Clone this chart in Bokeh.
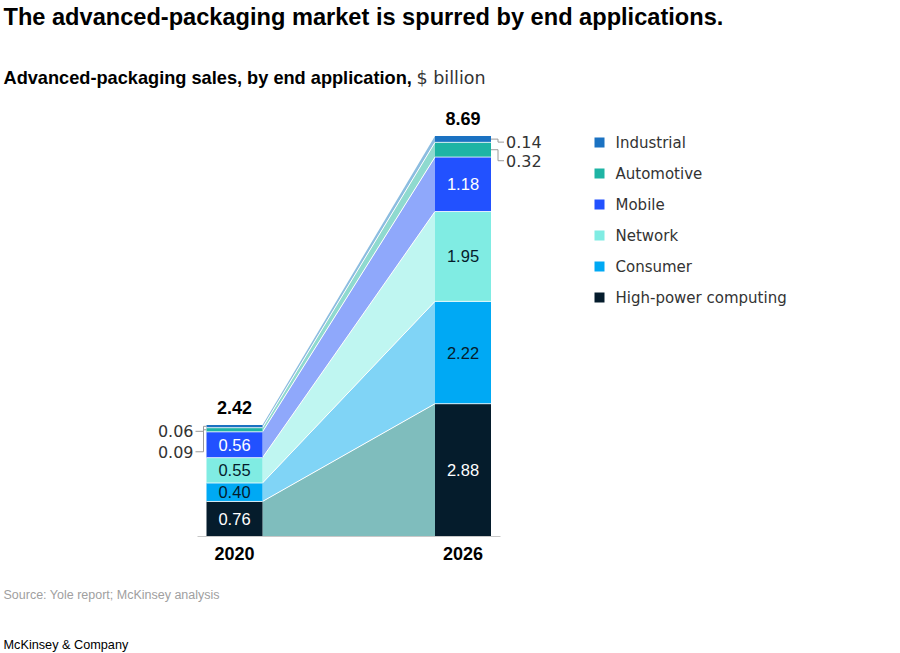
from bokeh.plotting import figure
from bokeh.models import Range1d, Label
from bokeh.embed import file_html
from bokeh.resources import INLINE
from bokeh.core.properties import value

# ---------------- data ----------------
years = ["2020", "2026"]
segments = ["High-power computing", "Consumer", "Network", "Mobile", "Automotive", "Industrial"]
v2020 = [0.76, 0.40, 0.55, 0.56, 0.09, 0.06]
v2026 = [2.88, 2.22, 1.95, 1.18, 0.32, 0.14]
totals = [2.42, 8.69]
legend_order = ["Industrial", "Automotive", "Mobile", "Network", "Consumer", "High-power computing"]

# ---------------- styles ----------------
bar_colors = {"High-power computing": "#051c2c", "Consumer": "#00a9f4", "Network": "#80ece3",
              "Mobile": "#2251ff", "Automotive": "#1eb4a4", "Industrial": "#1b72c2"}
area_colors = {"High-power computing": "#7fbdbd", "Consumer": "#80d4f6", "Network": "#bff6f1",
               "Mobile": "#8fa8fb", "Automotive": "#8fdacf", "Industrial": "#8cbde0"}
DARK = "#051c2c"
GREY = "#333333"
inside_color = {"High-power computing": "white", "Consumer": DARK, "Network": DARK, "Mobile": "white"}
REG = value("DejaVu Sans")
BOLD = value("Liberation Sans")

W, H = 900, 653
K = 46.1          # px per $ billion
BASE = 117        # px from bottom of canvas to baseline
xc = [234, 462.5]  # bar centres (px)
bw = 56

p = figure(width=W, height=H, x_range=Range1d(0, W), y_range=Range1d(-BASE / K, (H - BASE) / K),
           output_backend="svg", toolbar_location=None, x_axis_location=None, y_axis_location=None,
           min_border=0)
p.grid.visible = False
p.outline_line_color = None
p.background_fill_color = "white"
p.border_fill_color = "white"


def px(d):
    return d / K


vals = [v2020, v2026]
bots, tops = [], []
for v in vals:
    b, t, c = [], [], 0.0
    for x in v:
        b.append(c)
        c += x
        t.append(c)
    bots.append(b)
    tops.append(t)

# connecting areas
x0 = xc[0] + bw / 2
x1 = xc[1] - bw / 2
p.patches(xs=[[x0, x1, x1, x0] for _ in segments],
          ys=[[bots[0][i], bots[1][i], tops[1][i], tops[0][i]] for i in range(len(segments))],
          fill_color=[area_colors[s] for s in segments], line_color=None)
p.multi_line(xs=[[x0, x1] for _ in segments[:-1]],
             ys=[[tops[0][i], tops[1][i]] for i in range(len(segments) - 1)],
             line_color="white", line_width=1)

# bars
for j in range(2):
    p.vbar(x=[xc[j]] * len(segments), width=bw, bottom=bots[j], top=tops[j],
           fill_color=[bar_colors[s] for s in segments], line_color=None)
    p.multi_line(xs=[[xc[j] - bw / 2, xc[j] + bw / 2] for _ in segments[:-1]],
                 ys=[[tops[j][i], tops[j][i]] for i in range(len(segments) - 1)],
                 line_color="white", line_width=0.8)

# baseline
p.line(x=[197, 500], y=[0, 0], line_color="#c8c8c8", line_width=1)

# inside labels
for j in range(2):
    xs_, ys_, ts_, cs_ = [], [], [], []
    for i, s in enumerate(segments):
        if s in inside_color:
            xs_.append(xc[j])
            ys_.append((bots[j][i] + tops[j][i]) / 2)
            ts_.append(f"{vals[j][i]:.2f}")
            cs_.append(inside_color[s])
    p.text(x=xs_, y=ys_, text=ts_, text_color=cs_, text_font=BOLD, text_font_size="16.5px",
           text_align="center", text_baseline="middle")

# totals and years
p.text(x=xc, y=[t + px(17) for t in totals], text=[f"{t:.2f}" for t in totals], text_color="#000000",
       text_font=BOLD, text_font_size="18px", text_font_style="bold", text_align="center",
       text_baseline="middle")
p.text(x=xc, y=[-px(17)] * 2, text=years, text_color="#000000", text_font=BOLD, text_font_size="18px",
       text_font_style="bold", text_align="center", text_baseline="middle")

# leader labels for small segments
small = [segments.index("Automotive"), segments.index("Industrial")]
lab_off20 = {segments.index("Industrial"): 5, segments.index("Automotive"): 22}
lab_off26 = {segments.index("Industrial"): 3, segments.index("Automotive"): 11}
for i in small:
    mid = (bots[0][i] + tops[0][i]) / 2
    ly = mid - px(lab_off20[i])
    left = xc[0] - bw / 2
    p.line(x=[left - 11, left - 3, left - 3, left], y=[ly, ly, mid, mid], line_color="#9a9a9a", line_width=1)
    p.text(x=[left - 13], y=[ly], text=[f"{v2020[i]:.2f}"], text_color=GREY, text_font=REG,
           text_font_size="16px", text_align="right", text_baseline="middle")
    mid = (bots[1][i] + tops[1][i]) / 2
    ly = mid - px(lab_off26[i])
    right = xc[1] + bw / 2
    p.line(x=[right, right + 7, right + 7, right + 13], y=[mid, mid, ly, ly], line_color="#9a9a9a", line_width=1)
    p.text(x=[right + 15], y=[ly], text=[f"{v2026[i]:.2f}"], text_color=GREY, text_font=REG,
           text_font_size="16px", text_align="left", text_baseline="middle")

# legend
page_base = 536
leg_y = [px(page_base - (142 + 31 * k)) for k in range(len(legend_order))]
p.scatter(x=[599] * len(legend_order), y=leg_y, marker="square", size=10, line_color=None,
          fill_color=[bar_colors[s] for s in legend_order])
p.text(x=[615] * len(legend_order), y=leg_y, text=legend_order, text_color=GREY, text_font=REG,
       text_font_size="15px", text_align="left", text_baseline="middle")

# titles & notes
p.add_layout(Label(x=3, y=H - 16, x_units="screen", y_units="screen",
                   text="The advanced-packaging market is spurred by end applications.",
                   text_font="Liberation Sans", text_font_size="23.6px", text_font_style="bold",
                   text_color="#000000", text_baseline="middle"))
p.add_layout(Label(x=3, y=H - 77, x_units="screen", y_units="screen",
                   text="Advanced-packaging sales, by end application,",
                   text_font="Liberation Sans", text_font_size="18.2px", text_font_style="bold",
                   text_color="#000000", text_baseline="middle"))
p.add_layout(Label(x=416, y=H - 77, x_units="screen", y_units="screen", text="$ billion",
                   text_font="DejaVu Sans", text_font_size="17.5px", text_color="#333333",
                   text_baseline="middle"))
p.add_layout(Label(x=3, y=H - 594, x_units="screen", y_units="screen",
                   text="Source: Yole report; McKinsey analysis",
                   text_font="Liberation Sans", text_font_size="12.5px", text_color="#a0a0a0",
                   text_baseline="middle"))
p.add_layout(Label(x=3, y=H - 644, x_units="screen", y_units="screen", text="McKinsey & Company",
                   text_font="Liberation Sans", text_font_size="12.7px", text_color="#000000",
                   text_baseline="middle"))

open("out.html", "w").write(file_html(p, INLINE))
